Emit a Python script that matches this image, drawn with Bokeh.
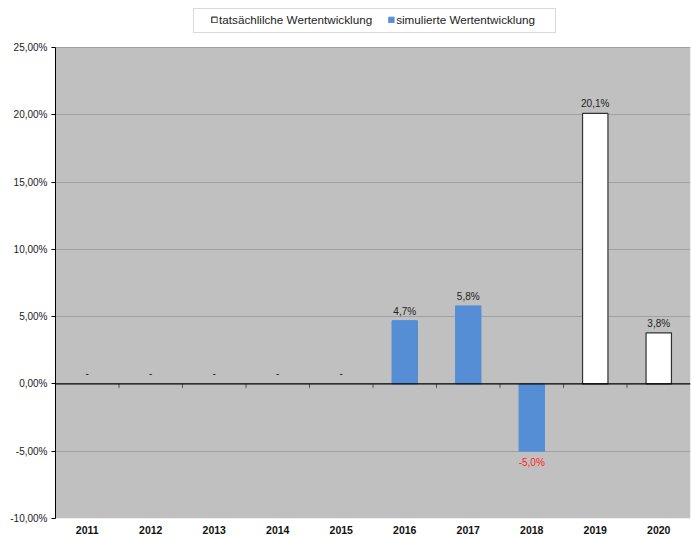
from bokeh.plotting import figure
from bokeh.models import (ColumnDataSource, Legend, LegendItem, Range1d, Span, BoxAnnotation,
                          FixedTicker, CustomJSTickFormatter, LabelSet)
from bokeh.transform import dodge
from bokeh.core.properties import value
from bokeh.embed import file_html
from bokeh.resources import INLINE

# ---- data ----
years = ["2011", "2012", "2013", "2014", "2015", "2016", "2017", "2018", "2019", "2020"]
actual = [None, None, None, None, None, None, None, None, 20.1, 3.8]
simulated = [None, None, None, None, None, 4.7, 5.8, -5.0, None, None]
y_ticks = [-10, -5, 0, 5, 10, 15, 20, 25]
legend_labels = ["tatsächlilche Wertentwicklung", "simulierte Wertentwicklung"]

FONT = "Liberation Sans"
BG = "#c0c0c0"
BLUE = "#558ed5"
Y_MIN, Y_MAX = -10, 25
W, H = 691, 538
BOTTOM = 20
PLOT_TOP_PX = 47                     # space above the grey plot area (legend lives there)
FRAME_H = H - BOTTOM
PLOT_PX = FRAME_H - PLOT_TOP_PX
Y_END = Y_MAX + PLOT_TOP_PX * (Y_MAX - Y_MIN) / PLOT_PX

p = figure(x_range=years, y_range=Range1d(Y_MIN, Y_END), width=W, height=H,
           output_backend="svg", toolbar_location=None,
           min_border_left=55, min_border_right=1, min_border_top=0, min_border_bottom=BOTTOM)
p.background_fill_color = "white"
p.border_fill_color = "white"
p.outline_line_color = None

# grey plot area
p.add_layout(BoxAnnotation(bottom=Y_MIN, top=Y_MAX, fill_color=BG, fill_alpha=1.0,
                           line_color=None, level="image"))

def fmt(v):
    return ("%.1f%%" % v).replace(".", ",")

act_x = [y for y, v in zip(years, actual) if v is not None]
act_v = [v for v in actual if v is not None]
sim_x = [y for y, v in zip(years, simulated) if v is not None]
sim_v = [v for v in simulated if v is not None]
none_x = [y for y, a, s in zip(years, actual, simulated) if a is None and s is None]

src_act = ColumnDataSource(dict(x=act_x, top=act_v, label=[fmt(v) for v in act_v]))
src_sim_pos = ColumnDataSource(dict(x=[x for x, v in zip(sim_x, sim_v) if v >= 0],
                                    top=[v for v in sim_v if v >= 0],
                                    label=[fmt(v) for v in sim_v if v >= 0]))
src_sim_neg = ColumnDataSource(dict(x=[x for x, v in zip(sim_x, sim_v) if v < 0],
                                    top=[v for v in sim_v if v < 0],
                                    label=[fmt(v) for v in sim_v if v < 0]))
src_none = ColumnDataSource(dict(x=none_x, top=[0] * len(none_x), label=["-"] * len(none_x)))

# grid
p.xgrid.grid_line_color = None
p.ygrid.grid_line_color = "#a0a0a0"
p.ygrid.ticker = FixedTicker(ticks=[t for t in y_ticks if t not in (Y_MIN, 0)])

r_act = p.vbar(x="x", top="top", bottom=0, width=0.4, source=src_act,
               fill_color="white", line_color="#303030", line_width=1.2)
r_sim1 = p.vbar(x="x", top="top", bottom=0, width=0.4, source=src_sim_pos,
                fill_color=BLUE, line_color=BLUE)
r_sim2 = p.vbar(x="x", top="top", bottom=0, width=0.4, source=src_sim_neg,
                fill_color=BLUE, line_color=BLUE)

# zero line + category boundary ticks
p.add_layout(Span(location=0, dimension="width", line_color="black", line_width=1.2))
tick_len = 4 * (Y_MAX - Y_MIN) / float(PLOT_PX)
src_ticks = ColumnDataSource(dict(x=years[:-1], y0=[0] * (len(years) - 1),
                                  y1=[-tick_len] * (len(years) - 1)))
p.segment(x0=dodge("x", 0.5, range=p.x_range), x1=dodge("x", 0.5, range=p.x_range),
          y0="y0", y1="y1", source=src_ticks, line_color="#555555", line_width=1)

# labels
common = dict(text_font=value(FONT), text_font_size="10px", text_align="center")
p.add_layout(LabelSet(x="x", y="top", text="label", source=src_act, y_offset=4,
                      text_baseline="bottom", text_color="#222222", **common))
p.add_layout(LabelSet(x="x", y="top", text="label", source=src_sim_pos, y_offset=4,
                      text_baseline="bottom", text_color="#222222", **common))
p.add_layout(LabelSet(x="x", y="top", text="label", source=src_sim_neg, y_offset=-6,
                      text_baseline="top", text_color="#ff2020", **common))
p.add_layout(LabelSet(x="x", y="top", text="label", source=src_none, y_offset=7,
                      text_baseline="bottom", text_color="#222222", **common))

# y axis
p.yaxis.ticker = FixedTicker(ticks=y_ticks)
p.yaxis.bounds = (Y_MIN, Y_MAX)
p.yaxis.formatter = CustomJSTickFormatter(code="return tick.toFixed(2).replace('.', ',') + '%';")
p.yaxis.axis_line_color = "black"
p.yaxis.major_tick_line_color = "black"
p.yaxis.major_tick_in = 0
p.yaxis.major_tick_out = 4
p.yaxis.minor_tick_line_color = None
p.yaxis.major_label_text_font = FONT
p.yaxis.major_label_text_font_size = "10px"
p.yaxis.major_label_text_color = "#222222"
p.yaxis.major_label_standoff = 4

# x axis (labels only)
p.xaxis.axis_line_color = None
p.xaxis.major_tick_line_color = None
p.xaxis.major_tick_out = 0
p.xaxis.major_tick_in = 0
p.xaxis.minor_tick_line_color = None
p.xaxis.major_label_text_font = FONT
p.xaxis.major_label_text_font_size = "10.5px"
p.xaxis.major_label_text_font_style = "bold"
p.xaxis.major_label_text_color = "#111111"
p.xaxis.major_label_standoff = 7

# legend frame (wider than Bokeh's own padding allows) + legend items
p.add_layout(BoxAnnotation(left=193, right=555, top=8, bottom=32,
                           left_units="canvas", right_units="canvas",
                           top_units="canvas", bottom_units="canvas",
                           fill_color="white", fill_alpha=1.0,
                           line_color="#808080", line_width=1))
legend = Legend(items=[LegendItem(label=legend_labels[0], renderers=[r_act]),
                       LegendItem(label=legend_labels[1], renderers=[r_sim1])],
                orientation="horizontal", location="top_center",
                label_text_font=FONT, label_text_font_size="11.7px", label_text_color="#222222",
                glyph_width=7, glyph_height=7, label_standoff=2, spacing=15,
                padding=6, margin=13, border_line_color=None,
                background_fill_alpha=0.0, label_height=12)
p.add_layout(legend, "center")

open("out.html", "w").write(file_html(p, INLINE))
